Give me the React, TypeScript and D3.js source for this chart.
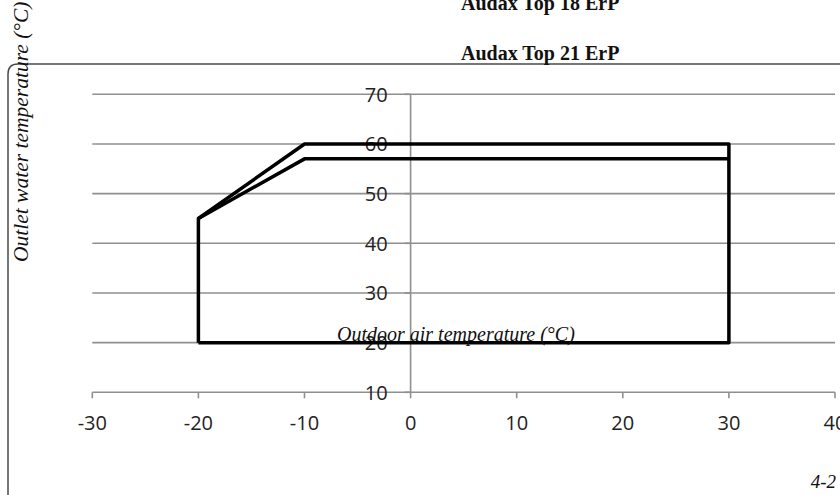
import React from "react"
import * as d3 from "d3"

// axis ticks
const xTicks = [-30, -20, -10, 0, 10, 20, 30, 40]
const yTicks = [10, 20, 30, 40, 50, 60, 70]

// operating envelope, outer (higher) limit
const outerX = [-20, -20, -10, 30, 30, -20]
const outerY = [20, 45, 60, 60, 20, 20]

// inner limit
const innerX = [-20, -10, 30]
const innerY = [45, 57, 57]

const titles = ["Audax Top 18 ErP", "Audax Top 21 ErP"]
const yTitle = "Outlet water temperature (°C)"
const xTitle = "Outdoor air temperature (°C)"
const figNote = "4-2"

const W = 840
const H = 495

export default function App() {
  const x = d3.scaleLinear().domain([-30, 40]).range([92.3, 835])
  const y = d3.scaleLinear().domain([10, 70]).range([392.3, 94.3])

  const line = d3
    .line<[number, number]>()
    .x((d) => x(d[0]))
    .y((d) => y(d[1]))

  const outer = outerX.map((v, i) => [v, outerY[i]] as [number, number])
  const inner = innerX.map((v, i) => [v, innerY[i]] as [number, number])

  const grid = "#8f8f8f"
  const serif = "'Liberation Serif', 'Times New Roman', serif"
  const sans = "'Open Sans', 'Noto Sans', sans-serif"

  return (
    <svg
      width={W}
      height={H}
      style={{ position: "absolute", left: 0, top: 0, background: "#fff" }}
    >
      {/* frame */}
      <path
        d={`M8,${H + 5} L8,${64 + 10} Q8,64 18,64 L${W + 5},64`}
        fill="none"
        stroke="#4a4a4a"
        strokeWidth={1.5}
      />

      {/* gridlines */}
      {yTicks.slice(1).map((t) => (
        <line
          key={"g" + t}
          x1={x(-30)}
          x2={x(40)}
          y1={y(t)}
          y2={y(t)}
          stroke={grid}
          strokeWidth={1.6}
        />
      ))}

      {/* x axis */}
      <line x1={x(-30)} x2={x(40)} y1={y(10)} y2={y(10)} stroke={grid} strokeWidth={1.6} />
      {xTicks.map((t) => (
        <g key={"x" + t}>
          <line x1={x(t)} x2={x(t)} y1={y(10)} y2={y(10) + 6} stroke={grid} strokeWidth={1.6} />
          <text
            x={x(t)}
            y={y(10) + 38}
            textAnchor="middle"
            fontFamily={sans}
            fontSize={20}
            fill="#222"
          >
            {t}
          </text>
        </g>
      ))}

      {/* y axis */}
      <line x1={x(0)} x2={x(0)} y1={y(70)} y2={y(10)} stroke={grid} strokeWidth={1.6} />
      {yTicks.map((t) => (
        <g key={"y" + t}>
          <line x1={x(0) - 6} x2={x(0)} y1={y(t)} y2={y(t)} stroke={grid} strokeWidth={1.6} />
          <text
            x={x(0) - 23}
            y={y(t)}
            dy="0.36em"
            textAnchor="end"
            fontFamily={sans}
            fontSize={20}
            fill="#222"
          >
            {t}
          </text>
        </g>
      ))}

      {/* envelope */}
      <path d={line(outer) || ""} fill="none" stroke="#000" strokeWidth={3.5} strokeLinejoin="round" />
      <path d={line(inner) || ""} fill="none" stroke="#000" strokeWidth={3.5} strokeLinejoin="round" />

      {/* titles */}
      <text x={461} y={10} fontFamily={serif} fontWeight="bold" fontSize={20} fill="#111">
        {titles[0]}
      </text>
      <text x={461} y={60} fontFamily={serif} fontWeight="bold" fontSize={20} fill="#111">
        {titles[1]}
      </text>

      <text
        transform="translate(28,262) rotate(-90)"
        fontFamily={serif}
        fontStyle="italic"
        fontSize={21.5}
        fill="#111"
      >
        {yTitle}
      </text>

      <text x={337} y={341} fontFamily={serif} fontStyle="italic" fontSize={20} fill="#111">
        {xTitle}
      </text>

      <text x={836} y={488} textAnchor="end" fontFamily={serif} fontStyle="italic" fontSize={19} fill="#111">
        {figNote}
      </text>
    </svg>
  )
}
